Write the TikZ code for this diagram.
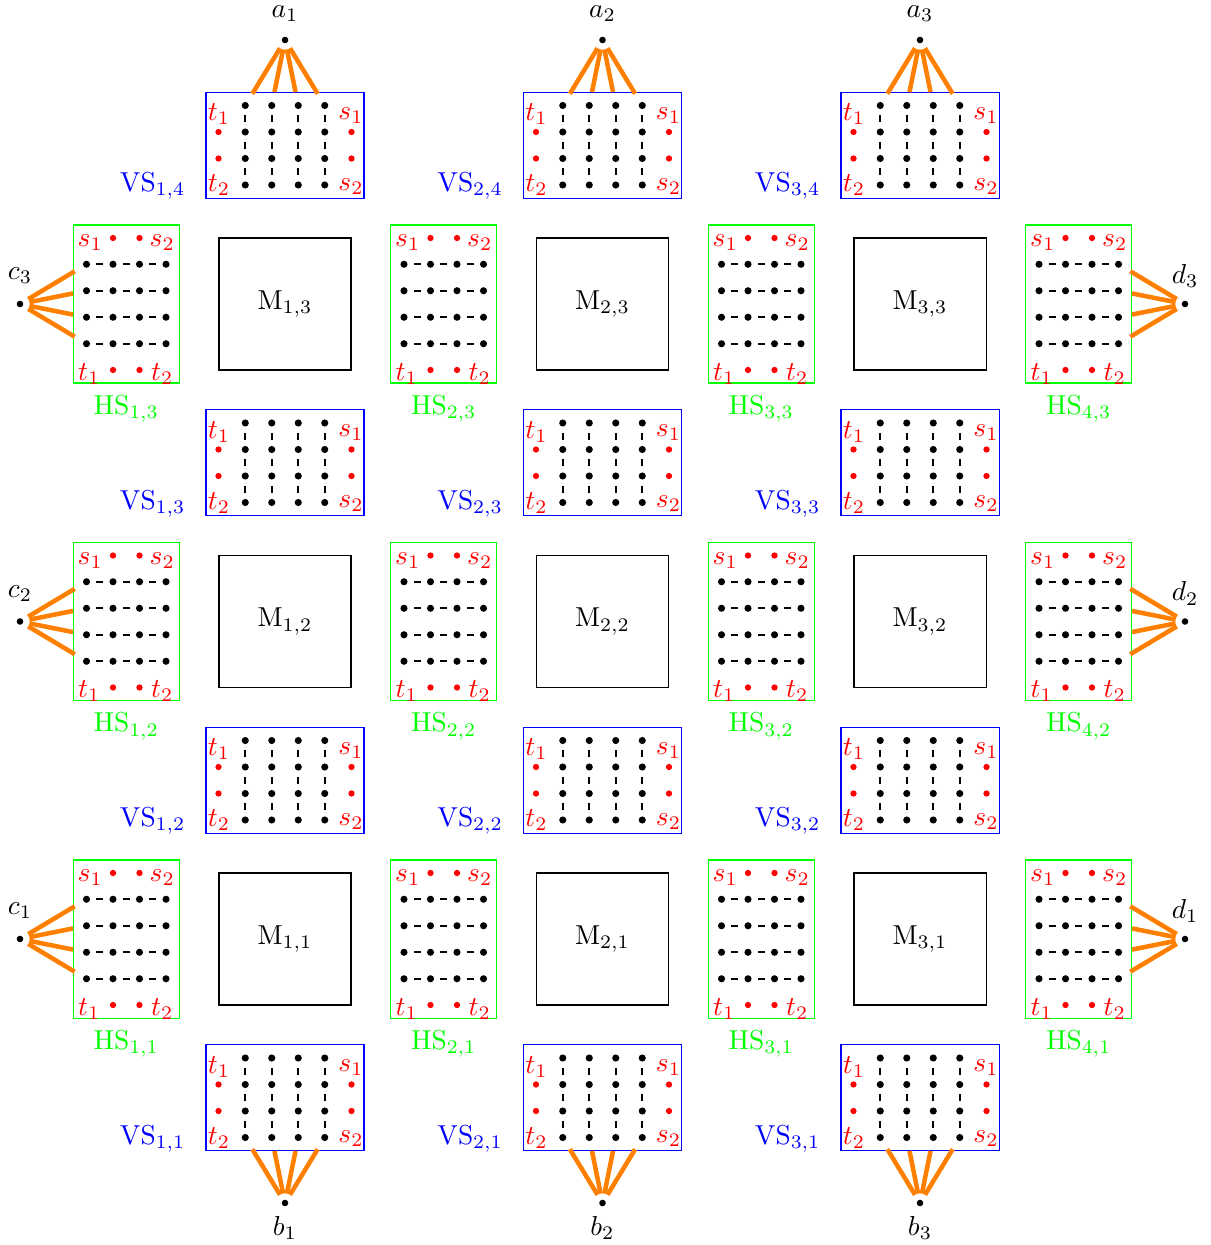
\documentclass[tikz,border=0pt]{standalone}
\usetikzlibrary{calc}
\begin{document}
\begin{tikzpicture}[x=0.365pt,y=-0.365pt,
  dotb/.style={circle,fill=black,inner sep=0pt,minimum size=2.6pt},
  dotr/.style={circle,fill=red,inner sep=0pt,minimum size=2.3pt},
  dott/.style={circle,fill=black,inner sep=0pt,minimum size=2.4pt},
  vsbox/.style={draw=blue,line width=0.4pt,minimum width=57.7pt,minimum height=38.7pt,inner sep=0pt},
  hsbox/.style={draw=green,line width=0.4pt,minimum width=38.7pt,minimum height=57.7pt,inner sep=0pt},
  mbox/.style={draw=black,line width=0.4pt,minimum width=48.2pt,minimum height=48.2pt,inner sep=0pt},
  link/.style={line width=0.8pt,shorten <=2.1pt,shorten >=2.1pt},
  wire/.style={draw={rgb,255:red,255;green,128;blue,0},line width=1.65pt,shorten <=2.1pt,shorten >=3.5pt},
  redlab/.style={text=red,inner sep=0pt},
  vslab/.style={text=blue,inner sep=0pt,anchor=east},
  hslab/.style={text=green,inner sep=0pt},
  tlab/.style={inner sep=0pt}
]
\useasboundingbox (0,0) rectangle (1210,1245);
% M boxes
\foreach \i/\x in {1/285,2/602.5,3/920}{
  \foreach \j/\y in {1/939,2/621.5,3/304}{
    \node[mbox] (M-\i-\j) at (\x,\y) {$\mathrm{M}_{\i,\j}$};
  }
}
% VS boxes
\foreach \i/\x in {1/285,2/602.5,3/920}{
  \foreach \k/\y in {1/1097.75,2/780.25,3/462.75,4/145.25}{
    \node[vsbox] (VS-\i-\k) at (\x,\y) {};
    \node[vslab] (VSl-\i-\k) at (\x-99,\y+41) {$\mathrm{VS}_{\i,\k}$};
    \foreach \r in {1,...,4}{
      \foreach \c in {1,...,4}{
        \node[dotb] (vs-\i-\k-\r-\c) at (\x-66.25+26.5*\c,\y-66.25+26.5*\r) {};
      }
    }
    \node[dotr] (vsr-\i-\k-1) at (\x-66.5,\y-13.25) {};
    \node[dotr] (vsr-\i-\k-2) at (\x-66.5,\y+13.25) {};
    \node[dotr] (vsr-\i-\k-3) at (\x+66.5,\y-13.25) {};
    \node[dotr] (vsr-\i-\k-4) at (\x+66.5,\y+13.25) {};
    \node[redlab] (vst1-\i-\k) at (\x-66,\y-31) {$t_1$};
    \node[redlab] (vst2-\i-\k) at (\x-66,\y+40) {$t_2$};
    \node[redlab] (vss1-\i-\k) at (\x+66,\y-30) {$s_1$};
    \node[redlab] (vss2-\i-\k) at (\x+66,\y+41) {$s_2$};
    \foreach \c in {1,...,4}{
      \foreach \r/\rr in {1/2,2/3,3/4}{
        \draw[link] (vs-\i-\k-\r-\c) -- (vs-\i-\k-\rr-\c);
      }
    }
  }
}
% HS boxes
\foreach \i/\x in {1/126.25,2/443.75,3/761.25,4/1078.75}{
  \foreach \j/\y in {1/939,2/621.5,3/304}{
    \node[hsbox] (HS-\i-\j) at (\x,\y) {};
    \node[hslab] (HSl-\i-\j) at (\x,\y+105) {$\mathrm{HS}_{\i,\j}$};
    \foreach \r in {1,...,4}{
      \foreach \c in {1,...,4}{
        \node[dotb] (hs-\i-\j-\r-\c) at (\x-66.25+26.5*\c,\y-66.25+26.5*\r) {};
      }
    }
    \node[dotr] (hsr-\i-\j-1) at (\x-13.25,\y-66) {};
    \node[dotr] (hsr-\i-\j-2) at (\x+13.25,\y-66) {};
    \node[dotr] (hsr-\i-\j-3) at (\x-13.25,\y+66) {};
    \node[dotr] (hsr-\i-\j-4) at (\x+13.25,\y+66) {};
    \node[redlab] (hss1-\i-\j) at (\x-36,\y-61) {$s_1$};
    \node[redlab] (hss2-\i-\j) at (\x+36,\y-61) {$s_2$};
    \node[redlab] (hst1-\i-\j) at (\x-37,\y+70) {$t_1$};
    \node[redlab] (hst2-\i-\j) at (\x+36,\y+70) {$t_2$};
    \foreach \r in {1,...,4}{
      \foreach \c/\cc in {1/2,2/3,3/4}{
        \draw[link] (hs-\i-\j-\r-\c) -- (hs-\i-\j-\r-\cc);
      }
    }
  }
}
% terminals a, b
\foreach \i/\x in {1/285,2/602.5,3/920}{
  \node[dott] (a\i) at (\x,40) {};
  \node[tlab] (al\i) at (\x,14) {$a_\i$};
  \node[dott] (b\i) at (\x,1203) {};
  \node[tlab] (bl\i) at (\x,1228) {$b_\i$};
  \foreach \c in {1,...,4}{
    \draw[wire] (a\i) -- (vs-\i-4-1-\c);
    \draw[wire] (b\i) -- (vs-\i-1-4-\c);
  }
}
% terminals c, d
\foreach \j/\y in {1/939,2/621.5,3/304}{
  \node[dott] (c\j) at (20,\y) {};
  \node[tlab] (cl\j) at (20,\y-28) {$c_\j$};
  \node[dott] (d\j) at (1185,\y) {};
  \node[tlab] (dl\j) at (1185,\y-28) {$d_\j$};
  \foreach \r in {1,...,4}{
    \draw[wire] (c\j) -- (hs-1-\j-\r-1);
    \draw[wire] (d\j) -- (hs-4-\j-\r-4);
  }
}
\end{tikzpicture}
\end{document}
